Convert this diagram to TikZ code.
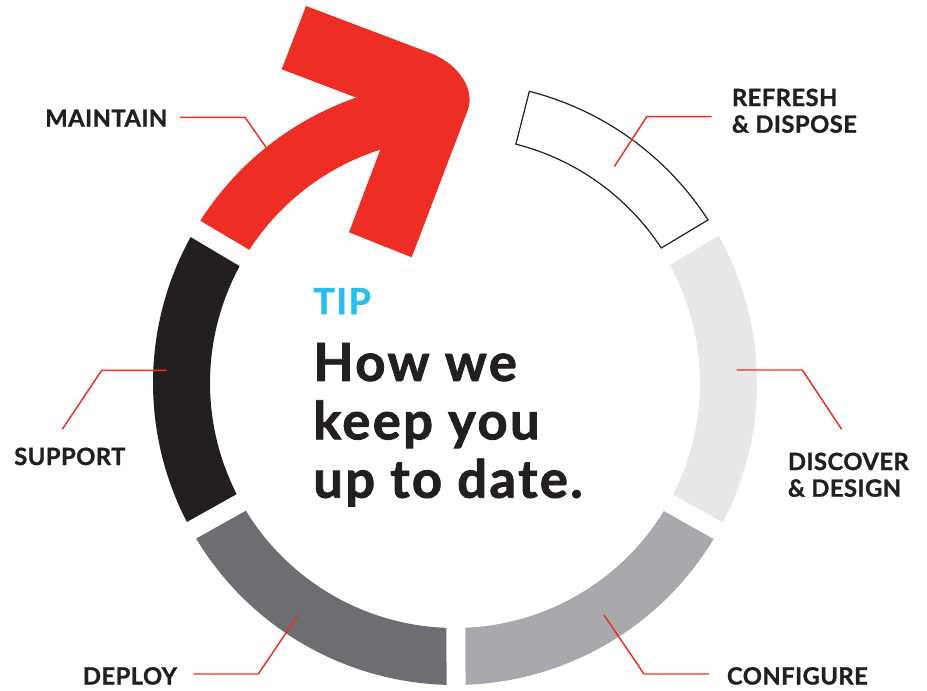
\documentclass[tikz,border=0pt]{standalone}
\usepackage{fontspec}
\setmainfont{Lato}
\newfontfamily\titlefont{Lato}[BoldFeatures={FakeBold=1.6, LetterSpace=4.5}]
\newfontfamily\labelfont{Lato}[BoldFeatures={FakeBold=1.2, LetterSpace=2}]
\usetikzlibrary{calc}
\definecolor{ared}{HTML}{EE2E24}
\definecolor{csupport}{HTML}{231F20}
\definecolor{cdeploy}{HTML}{6D6E71}
\definecolor{cconfig}{HTML}{A7A9AC}
\definecolor{cdiscover}{HTML}{E6E7E8}
\definecolor{tipblue}{HTML}{29BEF0}
\newcommand\ringseg[3]{%
  \fill[#3] ($(C)+(#1+1.8:302)$) arc[start angle=#1+1.8, end angle=#2-1.8, radius=302]
    -- ($(C)+(#2-2.22:245)$) arc[start angle=#2-2.22, end angle=#1+2.22, radius=245] -- cycle;}
\begin{document}
\begin{tikzpicture}[x=0.75pt,y=0.75pt,
  lbl/.style={inner sep=0pt, anchor=base west, align=left, text=csupport,
    font=\labelfont\fontsize{17.8}{20}\selectfont\bfseries},
  leader/.style={draw=ared, line width=1.1pt},
  title/.style={inner sep=0pt, anchor=base west, align=left, text=csupport,
    font=\titlefont\fontsize{39.4}{43.8}\selectfont\bfseries}]
\useasboundingbox (0,0) rectangle (927,690);
\coordinate (C) at (455,307);
% ring segments
\ringseg{-29.3}{31}{cdiscover}
\ringseg{-89.8}{-29.3}{cconfig}
\ringseg{-150.8}{-89.8}{cdeploy}
\ringseg{149.3}{209.2}{csupport}
% refresh (outlined)
\draw[csupport, line width=0.9pt, line join=miter]
  ($(C)+(32.8:301)$) arc[start angle=32.8, end angle=75.7, radius=301]
  -- ($(C)+(75.7:246.5)$) arc[start angle=75.7, end angle=33.2, radius=246.5] -- cycle;
% red maintain arrow
\fill[ared] ($(C)+(147.5:302)$) arc[start angle=147.5, end angle=100, radius=302]
  -- ($(C)+(100:245)$) arc[start angle=100, end angle=147.08, radius=245] -- cycle;
\fill[ared] (306,684) -- (430.2,637) .. controls (458.5,626.3) and (475.4,600.6) .. (467.8,580)
  -- (411.7,432.7) -- (349,457.7) -- (394.5,577.8) -- (281.7,620.7) -- cycle;
% labels
\node[lbl] (maintain) at (45,563.3) {MAINTAIN};
\node[lbl] (refresh) at (731.7,557.3) {REFRESH\\\& DISPOSE};
\node[lbl] (discover) at (787.7,193.3) {DISCOVER\\\& DESIGN};
\node[lbl] (configure) at (726.7,5.5) {CONFIGURE};
\node[lbl] (deploy) at (82.7,5.5) {DEPLOY};
\node[lbl] (support) at (14,225) {SUPPORT};
% leaders
\coordinate (m1) at (180,572.7); \coordinate (m2) at (245,572.7); \coordinate (m3) at (266.7,541.7);
\coordinate (r1) at (711.7,573.3); \coordinate (r2) at (646.7,573.3); \coordinate (r3) at (614.3,523.3);
\coordinate (d1) at (736.7,320); \coordinate (d2) at (802.3,320); \coordinate (d3) at (841.7,260.7);
\coordinate (c1) at (604,75); \coordinate (c2) at (644,16); \coordinate (c3) at (709,16);
\coordinate (p1) at (297.7,74.3); \coordinate (p2) at (258.3,16); \coordinate (p3) at (193.3,16);
\coordinate (s1) at (166.7,319.7); \coordinate (s2) at (101.7,319.7); \coordinate (s3) at (62.3,260.7);
\draw[leader] (m1) -- (m2) -- (m3);
\draw[leader] (r1) -- (r2) -- (r3);
\draw[leader] (d1) -- (d2) -- (d3);
\draw[leader] (c1) -- (c2) -- (c3);
\draw[leader] (p1) -- (p2) -- (p3);
\draw[leader] (s1) -- (s2) -- (s3);
% centre text
\node[inner sep=0pt, anchor=base west, text=tipblue, font=\titlefont\fontsize{26.9}{30}\selectfont\bfseries] (tip) at (313,376) {TIP};
\node[title] (head) at (313,192.3) {How we\\keep you\\up to date.};
\end{tikzpicture}
\end{document}
